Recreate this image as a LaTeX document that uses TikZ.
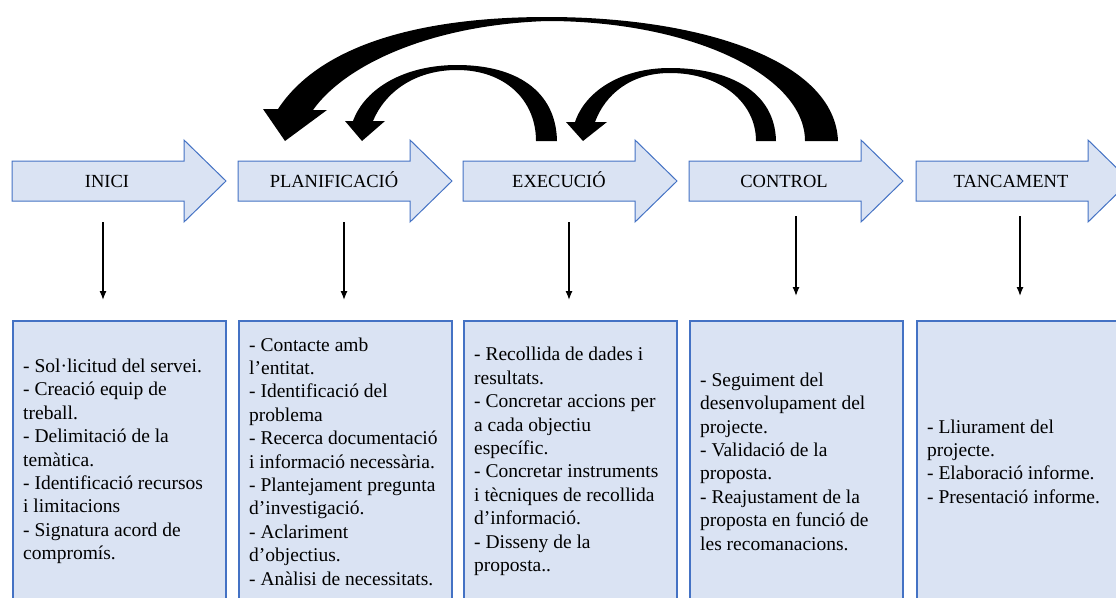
\documentclass[tikz,border=0pt]{standalone}
\usepackage{fontspec}
\setmainfont{Liberation Serif}
\usetikzlibrary{arrows.meta}
\definecolor{fillblue}{HTML}{DAE3F3}
\definecolor{lineblue}{HTML}{4472C4}
\begin{document}
\begin{tikzpicture}[x=1pt,y=-1pt,
  barrow/.style={fill=fillblue,draw=lineblue,line width=1pt,line join=miter},
  head/.style={font=\fontsize{18.5}{22}\selectfont,anchor=base,inner sep=0pt},
  box/.style={fill=fillblue,draw=lineblue,line width=1.6pt,minimum width=213pt,minimum height=283pt,anchor=north west,inner sep=0pt},
  body/.style={font=\fontsize{19.5}{23.4}\selectfont,align=left,anchor=west,inner sep=0pt},
  conn/.style={line width=1.3pt,-{Latex[length=9pt,width=7pt]}},
  curved/.style={fill=black}]
\useasboundingbox (0,0) rectangle (1116,597);
\clip (0,0) rectangle (1116,597);

% block arrows
\path[barrow] (12,161) -- ++(172,0) -- ++(0,-21) -- ++(42,41) -- ++(-42,41) -- ++(0,-21) -- ++(-172,0) -- cycle;
\path[barrow] (238,161) -- ++(172,0) -- ++(0,-21) -- ++(42,41) -- ++(-42,41) -- ++(0,-21) -- ++(-172,0) -- cycle;
\path[barrow] (463,161) -- ++(172,0) -- ++(0,-21) -- ++(42,41) -- ++(-42,41) -- ++(0,-21) -- ++(-172,0) -- cycle;
\path[barrow] (689,161) -- ++(172,0) -- ++(0,-21) -- ++(42,41) -- ++(-42,41) -- ++(0,-21) -- ++(-172,0) -- cycle;
\path[barrow] (916,161) -- ++(172,0) -- ++(0,-21) -- ++(42,41) -- ++(-42,41) -- ++(0,-21) -- ++(-172,0) -- cycle;

\node[head] (h1) at (107,187.5) {INICI};
\node[head] (h2) at (334,187.5) {PLANIFICACIÓ};
\node[head] (h3) at (559,187.5) {EXECUCIÓ};
\node[head] (h4) at (784,187.5) {CONTROL};
\node[head] (h5) at (1011,187.5) {TANCAMENT};

% vertical connectors
\coordinate (c1a) at (103,222); \coordinate (c1b) at (103,300);
\coordinate (c2a) at (344,222); \coordinate (c2b) at (344,300);
\coordinate (c3a) at (569,222); \coordinate (c3b) at (569,300);
\coordinate (c4a) at (796,216); \coordinate (c4b) at (796,296);
\coordinate (c5a) at (1020,216); \coordinate (c5b) at (1020,296);
\draw[conn] (c1a) -- (c1b);
\draw[conn] (c2a) -- (c2b);
\draw[conn] (c3a) -- (c3b);
\draw[conn] (c4a) -- (c4b);
\draw[conn] (c5a) -- (c5b);

% boxes
\node[box] (b1) at (12,320) {};
\node[box] (b2) at (238,320) {};
\node[box] (b3) at (463,320) {};
\node[box] (b4) at (689,320) {};
\node[box] (b5) at (916,320) {};

\node[body] (t1) at (23,461.5) {- Sol·licitud del servei.\\- Creació equip de\\treball.\\- Delimitació de la\\temàtica.\\- Identificació recursos\\i limitacions\\- Signatura acord de\\compromís.};
\node[body] (t2) at (249,461.5) {- Contacte amb\\l’entitat.\\- Identificació del\\problema\\- Recerca documentació\\i informació necessària.\\- Plantejament pregunta\\d’investigació.\\- Aclariment\\d’objectius.\\- Anàlisi de necessitats.};
\node[body] (t3) at (474,461.5) {- Recollida de dades i\\resultats.\\- Concretar accions per\\a cada objectiu\\específic.\\- Concretar instruments\\i tècniques de recollida\\d’informació.\\- Disseny de la\\proposta..};
\node[body] (t4) at (700,461.5) {- Seguiment del\\desenvolupament del\\projecte.\\- Validació de la\\proposta.\\- Reajustament de la\\proposta en funció de\\les recomanacions.};
\node[body] (t5) at (927,461.5) {- Lliurament del\\projecte.\\- Elaboració informe.\\- Presentació informe.};

% curved feedback arrows
% CONTROL -> PLANIFICACIO (big)
\fill[curved] (838,141) .. controls (835,60) and (700,17) .. (547,17)
  .. controls (420,17) and (320,45) .. (278,109)
  -- (263,109) -- (285,141) -- (327,110) -- (313,110)
  .. controls (345,65) and (430,25) .. (547,21)
  .. controls (690,21) and (805,75) .. (805,141) -- cycle;
% EXECUCIO -> PLANIFICACIO
\fill[curved] (557,141) .. controls (556,90) and (515,65) .. (457,65)
  .. controls (405,65) and (365,88) .. (353,121)
  -- (345,121) -- (362,141) -- (385,121) -- (373,121)
  .. controls (385,92) and (415,70) .. (457,70)
  .. controls (505,70) and (536,100) .. (536,141) -- cycle;
% CONTROL -> EXECUCIO
\fill[curved] (776,141) .. controls (775,92) and (730,68) .. (670,68)
  .. controls (620,68) and (585,92) .. (575,122)
  -- (566,122) -- (583,141) -- (607,122) -- (595,122)
  .. controls (605,95) and (630,73) .. (670,73)
  .. controls (720,73) and (756,102) .. (756,141) -- cycle;
\end{tikzpicture}
\end{document}
